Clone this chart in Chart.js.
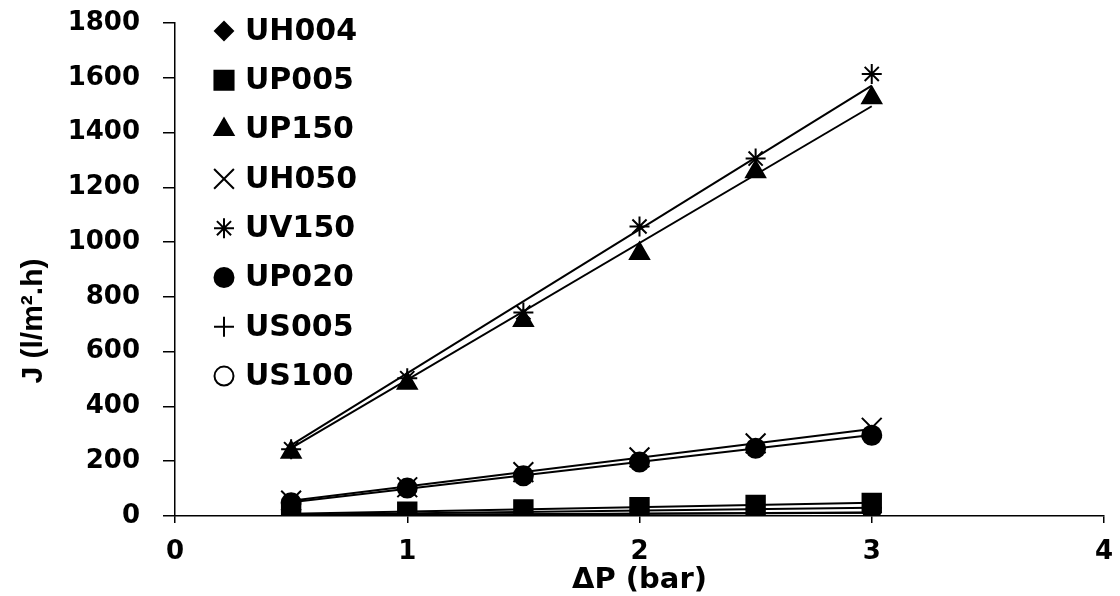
<!DOCTYPE html>
<html>
<head>
<meta charset="utf-8">
<script src="https://cdn.jsdelivr.net/npm/chart.js@4.4.1/dist/chart.umd.min.js"></script>
<style>
html,body{margin:0;padding:0;background:#fff;}
#wrap{width:1120px;height:596px;position:relative;background:#fff;}
</style>
</head>
<body>
<div id="wrap"><canvas id="c" width="1120" height="596"></canvas></div>
<script>
// ---- data ----
const pressures = [0.5, 1, 1.5, 2, 2.5, 3];           // ΔP (bar)
const seriesNames = ['UH004', 'UP005', 'UP150', 'UH050', 'UV150', 'UP020', 'US005', 'US100'];
const UH004 = [2, 4, 6, 8, 10, 12];
const UP005 = [8, 16, 24, 32, 40, 48];
const UP150 = [233, 485, 714, 958, 1257, 1527];
const UH050 = [56, 105, 160, 214, 265, 322];
const UV150 = [244, 503, 743, 1057, 1305, 1614];
const UP020 = [48, 102, 147, 197, 247, 295];
const US005 = [5, 10, 15, 20, 25, 30];
const US100 = [3, 5, 7, 9, 11, 13];

// straight trend lines: values at the first and last pressure
const trendX = [0.5, 3];
const trendUH004 = [2, 12];
const trendUP005 = [8, 48];
const trendUP150 = [248, 1496];
const trendUH050 = [56, 318];
const trendUV150 = [259, 1571];
const trendUP020 = [50, 296];
const trendUS005 = [5, 30];
const trendUS100 = [3, 13];

// axes
const xMin = 0, xMax = 4, xStep = 1;
const yMin = 0, yMax = 1800, yStep = 200;
const xTitle = 'ΔP (bar)';
const yTitle = 'J (l/m².h)';

// ---- styles ----
const seriesValues = [UH004, UP005, UP150, UH050, UV150, UP020, US005, US100];
const trendValues = [trendUH004, trendUP005, trendUP150, trendUH050, trendUV150, trendUP020, trendUS005, trendUS100];
const markerStyles = [
  {pointStyle: 'rectRot', radius: 9, fill: '#000', legendRadius: 9},
  {pointStyle: 'rect', radius: 13, fill: '#000', legendRadius: 13.5},
  {pointStyle: 'triangle', radius: 11, fill: '#000', legendRadius: 11},
  {pointStyle: 'crossRot', radius: 14, fill: '#000', legendRadius: 14},
  {pointStyle: 'star', radius: 10, fill: '#000', legendRadius: 10},
  {pointStyle: 'circle', radius: 9.5, fill: '#000', legendRadius: 9.5},
  {pointStyle: 'cross', radius: 10, fill: '#000', legendRadius: 10},
  {pointStyle: 'circle', radius: 8, fill: '#fff', legendRadius: 9.5}
];

const markerDatasets = seriesNames.map((name, i) => ({
  label: name,
  data: pressures.map((p, k) => ({x: p, y: seriesValues[i][k]})),
  showLine: false,
  pointStyle: markerStyles[i].pointStyle,
  pointRadius: markerStyles[i].radius,
  pointHoverRadius: markerStyles[i].radius,
  pointBackgroundColor: markerStyles[i].fill,
  pointBorderColor: '#000',
  pointBorderWidth: 2,
  borderColor: '#000',
  backgroundColor: markerStyles[i].fill
}));

const trendDatasets = seriesNames.map((name, i) => ({
  label: name + ' trend',
  data: trendX.map((p, k) => ({x: p, y: trendValues[i][k]})),
  showLine: true,
  pointRadius: 0,
  borderColor: '#000',
  borderWidth: 2,
  fill: false
}));

const FONT = "'DejaVu Sans', 'Liberation Sans', Arial, sans-serif";

const customText = {
  id: 'customText',
  afterDraw(chart) {
    const ctx = chart.ctx;
    // rotated y-axis title
    ctx.save();
    ctx.fillStyle = '#000';
    ctx.font = "bold 30px 'Liberation Sans', Arial, sans-serif";
    ctx.textAlign = 'center';
    ctx.textBaseline = 'middle';
    ctx.translate(34, chart.chartArea.top + 298);
    ctx.rotate(-Math.PI / 2);
    ctx.fillText(yTitle, 0, 0);
    ctx.restore();

    // legend inside the plot
    ctx.save();
    ctx.font = "bold 30px " + FONT;
    ctx.textAlign = 'left';
    ctx.textBaseline = 'middle';
    const x0 = chart.chartArea.left + 49;
    const y0 = 31;
    const dy = 49.3;
    seriesNames.forEach((name, i) => {
      const y = y0 + i * dy;
      const st = markerStyles[i];
      ctx.fillStyle = st.fill;
      ctx.strokeStyle = '#000';
      ctx.lineWidth = 2;
      if (Chart.helpers && Chart.helpers.drawPoint) {
        Chart.helpers.drawPoint(ctx, {pointStyle: st.pointStyle, radius: st.legendRadius, borderWidth: 2, rotation: 0}, x0, y);
      }
      ctx.fillStyle = '#000';
      ctx.fillText(name, x0 + 21, y + 1);
    });
    ctx.restore();
  }
};

Chart.defaults.font.family = FONT;
Chart.defaults.font.weight = 'bold';
Chart.defaults.color = '#000';

new Chart(document.getElementById('c'), {
  type: 'scatter',
  data: {datasets: [...markerDatasets, ...trendDatasets]},
  options: {
    responsive: false,
    animation: false,
    devicePixelRatio: 1,
    layout: {padding: {top: 23, right: 16, bottom: 0, left: 0}},
    plugins: {
      legend: {display: false},
      tooltip: {enabled: false}
    },
    scales: {
      x: {
        type: 'linear',
        min: xMin, max: xMax,
        ticks: {stepSize: xStep, padding: 14, font: {size: 26, weight: 'bold'}, color: '#000',
          callback: v => String(v)},
        grid: {drawOnChartArea: false, drawTicks: true, tickLength: 7, color: '#000', lineWidth: 1.5},
        border: {display: true, color: '#000', width: 1.5},
        title: {display: true, text: xTitle, color: '#000', font: {size: 29, weight: 'bold', lineHeight: 1}, padding: {top: 0, bottom: 1.5}},
        afterFit(scale) { scale.height = 80; scale.paddingLeft = 0; scale.paddingRight = 0; }
      },
      y: {
        min: yMin, max: yMax,
        ticks: {stepSize: yStep, padding: 23, font: {size: 26, weight: 'bold'}, color: '#000',
          callback: v => String(v)},
        grid: {drawOnChartArea: false, drawTicks: true, tickLength: 12, color: '#000', lineWidth: 1.5},
        border: {display: true, color: '#000', width: 1.5},
        afterFit(scale) { scale.width = 175; scale.paddingTop = 0; scale.paddingBottom = 0; }
      }
    }
  },
  plugins: [customText]
});
</script>
</body>
</html>
